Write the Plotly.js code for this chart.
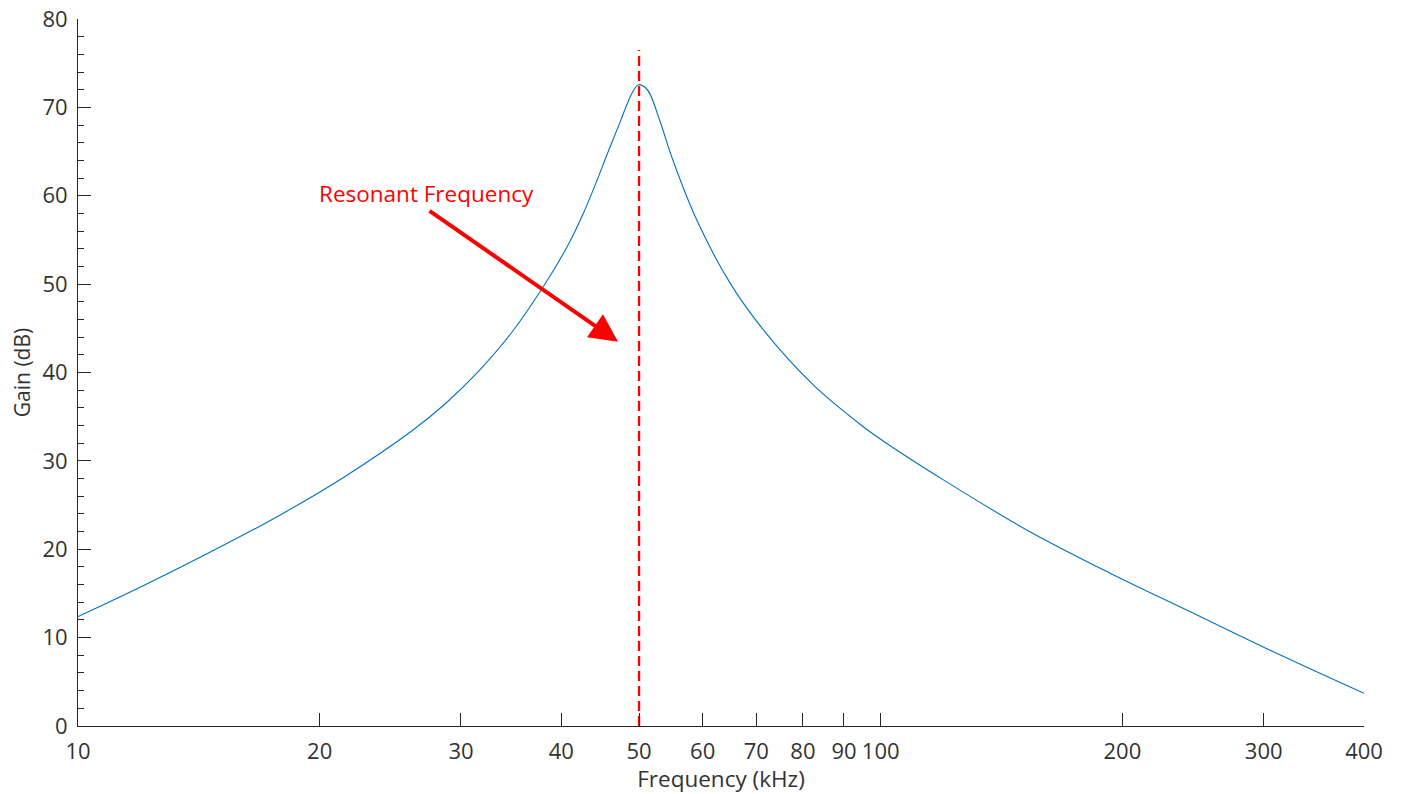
<!DOCTYPE html>
<html>
<head>
<meta charset="utf-8">
<script src="https://cdn.plot.ly/plotly-3.0.1.min.js"></script>
<style>html,body{margin:0;padding:0;background:#fff;}#chart{width:1402px;height:794px;}</style>
</head>
<body>
<div id="chart"></div>
<script>
// Frequency (kHz) and gain (dB)
var freq = [10, 12.11, 14.66, 17.75, 21.49, 26.02, 28.63, 31.50, 34.66, 38.14, 40.77, 42.70, 44.70, 45.35, 47.33, 48.27, 49.00, 49.89, 50.90, 51.60, 53.11, 55.16, 58.98, 64.92, 71.42, 82.41, 94.24, 100.7, 119.7, 152.0, 193.1, 245.2, 311.3, 400];
var gain = [12.38, 15.96, 19.74, 23.74, 28.21, 33.35, 36.41, 40.07, 44.47, 49.95, 54.4, 58.2, 62.6, 64.1, 68.3, 70.3, 71.6, 72.56, 72.25, 71.5, 68.4, 63.9, 57.28, 50.11, 44.83, 38.6, 34.15, 32.25, 27.85, 22.19, 17.29, 12.76, 8.23, 3.70];

// Resonant frequency marker
var resFreq = [50, 50];
var resGain = [0, 76.5];

var xTickVals = [10, 20, 30, 40, 50, 60, 70, 80, 90, 100, 200, 300, 400];
var xTickText = ['10', '20', '30', '40', '50', '60', '70', '80', '90', '100', '200', '300', '400'];
var yTickVals = [0, 10, 20, 30, 40, 50, 60, 70, 80];

var labelText = 'Resonant Frequency';
var xTitle = 'Frequency (kHz)';
var yTitle = 'Gain (dB)';

var axisColor = '#262626';
var textColor = '#333333';
var fontFam = '"Open Sans", "Noto Sans", sans-serif';

var traces = [
  {
    x: freq, y: gain, type: 'scatter', mode: 'lines',
    line: {color: '#0072BD', width: 1.1, shape: 'spline', smoothing: 1},
    hoverinfo: 'x+y'
  },
  {
    x: resFreq, y: resGain, type: 'scatter', mode: 'lines',
    line: {color: '#FF0000', width: 2.3, dash: '10px,5px'},
    hoverinfo: 'skip'
  }
];

var layout = {
  width: 1402, height: 794,
  paper_bgcolor: '#ffffff', plot_bgcolor: '#ffffff',
  margin: {l: 78, r: 38, t: 19, b: 68},
  showlegend: false,
  font: {family: fontFam, color: textColor, size: 22},
  xaxis: {
    type: 'log', range: [1, Math.log10(400)],
    tickmode: 'array', tickvals: xTickVals, ticktext: xTickText,
    ticks: 'inside', ticklen: 13, tickwidth: 1, tickcolor: axisColor,
    ticklabelstandoff: 6,
    showline: true, linecolor: axisColor, linewidth: 1, mirror: false,
    showgrid: false, zeroline: false,
    tickfont: {size: 22, color: textColor, family: fontFam},
    title: {text: xTitle, font: {size: 22.5, color: textColor, family: fontFam}, standoff: 4}
  },
  yaxis: {
    range: [0, 80],
    tickmode: 'array', tickvals: yTickVals,
    ticks: 'inside', ticklen: 13, tickwidth: 1, tickcolor: axisColor,
    ticklabelstandoff: 5,
    minor: {dtick: 2, ticks: 'inside', ticklen: 6, tickwidth: 1, tickcolor: axisColor, showgrid: false},
    showline: true, linecolor: axisColor, linewidth: 1, mirror: false,
    showgrid: false, zeroline: false,
    tickfont: {size: 22, color: textColor, family: fontFam},
    title: {text: yTitle, font: {size: 21, color: textColor, family: fontFam}, standoff: 6}
  },
  annotations: [
    {
      x: Math.log10(27.15), y: 60.2, xref: 'x', yref: 'y',
      text: labelText, showarrow: false,
      font: {size: 22.5, color: '#FF0000', family: fontFam}
    },
    {
      x: Math.log10(47.07), y: 43.47, xref: 'x', yref: 'y',
      ax: -190, ay: -132, axref: 'pixel', ayref: 'pixel',
      text: '', showarrow: true,
      arrowhead: 2, arrowsize: 1.4, arrowwidth: 4, arrowcolor: '#FF0000', standoff: 0
    }
  ]
};

Plotly.newPlot('chart', traces, layout, {displayModeBar: false, staticPlot: true});
</script>
</body>
</html>
